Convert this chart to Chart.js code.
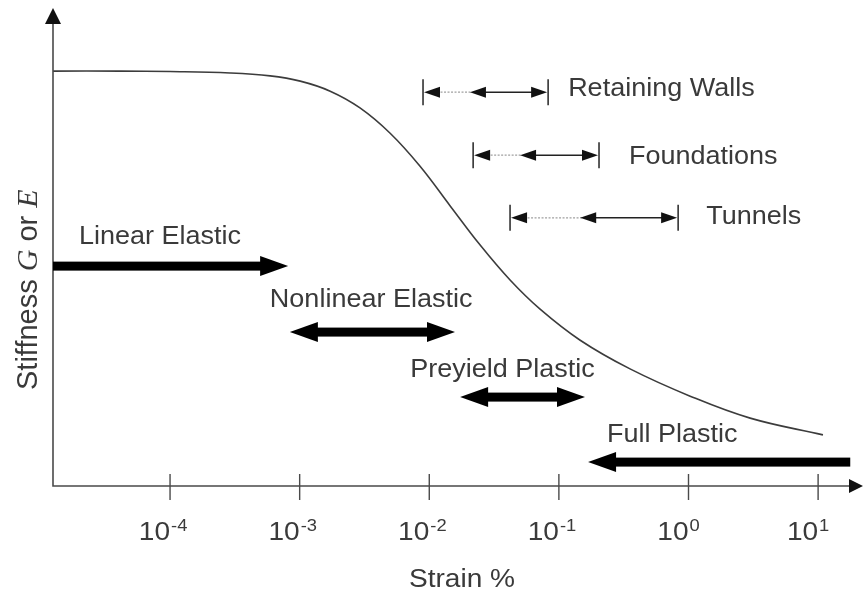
<!DOCTYPE html>
<html>
<head>
<meta charset="utf-8">
<title>Stiffness vs Strain</title>
<script src="https://cdn.jsdelivr.net/npm/chart.js"></script>
<style>
  html, body { margin: 0; padding: 0; background: #fff; }
  #wrap { width: 864px; height: 593px; }
</style>
</head>
<body>
<div id="wrap"><canvas id="stiffChart"></canvas></div>
<script>
// stiffness degradation curve: strain (%) and normalised stiffness
const strain    = [1.25e-5, 4.11e-5, 1e-4, 2.9e-4, 5.92e-4, 1.01e-3, 1.72e-3, 2.92e-3, 4.99e-3, 8.49e-3,
                   1.45e-2, 2.47e-2, 4.2e-2, 7.16e-2, 0.146, 0.354, 1.03, 2.99, 10.9];
const stiffness = [0.868, 0.868, 0.867, 0.864, 0.858, 0.847, 0.826, 0.791, 0.738, 0.669,
                   0.586, 0.504, 0.431, 0.370, 0.305, 0.245, 0.188, 0.142, 0.107];

// x axis ticks (powers of ten)
const tickValues    = [1e-4, 1e-3, 1e-2, 1e-1, 1e0, 1e1];
const tickExponents = ['-4', '-3', '-2', '-1', '0', '1'];

// behaviour zones (thick arrows)
const zoneNames = ['Linear Elastic', 'Nonlinear Elastic', 'Preyield Plastic', 'Full Plastic'];
const zoneFrom  = [1.25e-5, 8.4e-4, 1.73e-2, 0.168];
const zoneTo    = [8.15e-4, 1.58e-2, 0.159, 17.7];
const zoneLevel = [0.460, 0.322, 0.186, 0.050];
const zoneHeads = ['end', 'both', 'both', 'start'];

// typical strain ranges of structures
const appNames = ['Retaining Walls', 'Foundations', 'Tunnels'];
const appFrom  = [8.95e-3, 2.18e-2, 4.2e-2];
const appMid   = [2.06e-2, 5.02e-2, 0.146];
const appTo    = [0.0826, 0.204, 0.832];
const appLevel = [0.824, 0.692, 0.561];

// label placement (px offsets), kept apart from the data
const zoneLabelDx = [26, -20, -50, 19];
const zoneLabelDy = [-31, -34, -29, -29];
const appLabelDx  = [20, 30, 28];
const appLabelDy  = [-5, 0, -3];

const SANS = '"Liberation Sans", Arial, sans-serif';
const SERIF = '"Liberation Serif", "Times New Roman", serif';
const TEXT = '#3a3a3a';
const SX = 1.08; // the source text is slightly wide

function drawText(c, str, x, y, font, align) {
    c.save();
    c.font = font;
    c.fillStyle = TEXT;
    c.textBaseline = 'alphabetic';
    let w = c.measureText(str).width * SX;
    let x0 = x;
    if (align === 'center') x0 = x - w / 2;
    if (align === 'right') x0 = x - w;
    c.translate(x0, y);
    c.scale(SX, 1);
    c.fillText(str, 0, 0);
    c.restore();
    return w;
}

function tri(c, tipX, tipY, dir, len, half) {
    // dir: 1 = pointing right, -1 = left
    c.beginPath();
    c.moveTo(tipX, tipY);
    c.lineTo(tipX - dir * len, tipY - half);
    c.lineTo(tipX - dir * len, tipY + half);
    c.closePath();
    c.fill();
}

const schemePlugin = {
    id: 'scheme',
    afterDraw(chart) {
        const c = chart.ctx;
        const xs = chart.scales.x, ys = chart.scales.y;
        const a = chart.chartArea;

        // axes with arrow heads
        c.save();
        c.strokeStyle = '#4a4a4a';
        c.fillStyle = '#111';
        c.lineWidth = 1.6;
        c.beginPath();
        c.moveTo(a.left, a.top + 10);
        c.lineTo(a.left, a.bottom);
        c.lineTo(a.right - 10, a.bottom);
        c.stroke();
        c.beginPath();
        c.moveTo(a.left, a.top);
        c.lineTo(a.left - 8, a.top + 16);
        c.lineTo(a.left + 8, a.top + 16);
        c.closePath();
        c.fill();
        tri(c, a.right, a.bottom, 1, 14, 7);

        // ticks and labels
        c.lineWidth = 1.4;
        tickValues.forEach((v, i) => {
            const px = xs.getPixelForValue(v);
            c.beginPath();
            c.moveTo(px, a.bottom - 12);
            c.lineTo(px, a.bottom + 14);
            c.stroke();
            drawText(c, '10', px, a.bottom + 54, '26px ' + SANS, 'right');
            drawText(c, tickExponents[i], px + 1, a.bottom + 45, '17px ' + SANS, 'left');
        });
        c.restore();

        // axis titles
        drawText(c, 'Strain %', (a.left + a.right) / 2 + 4, 587, '26px ' + SANS, 'center');
        c.save();
        c.translate(37, 390);
        c.rotate(-Math.PI / 2);
        c.fillStyle = TEXT;
        let pos = 0;
        [['Stiffness ', '29px ' + SANS], ['G', 'italic 30px ' + SERIF], [' or ', '29px ' + SANS], ['E', 'italic 30px ' + SERIF]]
            .forEach(([s, f]) => {
                c.font = f;
                c.fillText(s, pos, 0);
                pos += c.measureText(s).width;
            });
        c.restore();

        // thick behaviour arrows
        c.save();
        c.fillStyle = '#000';
        zoneNames.forEach((name, i) => {
            const x1 = xs.getPixelForValue(zoneFrom[i]);
            const x2 = xs.getPixelForValue(zoneTo[i]);
            const y = ys.getPixelForValue(zoneLevel[i]);
            const hl = 28, hh = 10, th = 4.5;
            const h = zoneHeads[i];
            const s1 = (h === 'start' || h === 'both') ? x1 + hl - 1 : x1;
            const s2 = (h === 'end' || h === 'both') ? x2 - hl + 1 : x2;
            c.fillRect(s1, y - th, s2 - s1, th * 2);
            if (h === 'start' || h === 'both') tri(c, x1, y, -1, hl, hh);
            if (h === 'end' || h === 'both') tri(c, x2, y, 1, hl, hh);
            drawText(c, name, x1 + zoneLabelDx[i], y + zoneLabelDy[i] + 9, '25px ' + SANS, 'left');
        });
        c.restore();

        // thin strain-range arrows
        c.save();
        appNames.forEach((name, i) => {
            const x1 = xs.getPixelForValue(appFrom[i]);
            const xm = xs.getPixelForValue(appMid[i]);
            const x2 = xs.getPixelForValue(appTo[i]);
            const y = ys.getPixelForValue(appLevel[i]);
            c.strokeStyle = '#333';
            c.lineWidth = 1.6;
            c.beginPath();
            c.moveTo(x1, y - 13); c.lineTo(x1, y + 13);
            c.moveTo(x2, y - 13); c.lineTo(x2, y + 13);
            c.stroke();
            c.strokeStyle = '#a0a0a0';
            c.lineWidth = 1.2;
            c.setLineDash([2, 1.5]);
            c.beginPath();
            c.moveTo(x1 + 14, y); c.lineTo(xm + 2, y);
            c.stroke();
            c.setLineDash([]);
            c.strokeStyle = '#222';
            c.lineWidth = 1.5;
            c.beginPath();
            c.moveTo(xm + 10, y); c.lineTo(x2 - 10, y);
            c.stroke();
            c.fillStyle = '#111';
            tri(c, x1 + 1, y, -1, 16, 5.5);
            tri(c, xm, y, -1, 16, 5.5);
            tri(c, x2 - 1, y, 1, 16, 5.5);
            drawText(c, name, x2 + appLabelDx[i], y + appLabelDy[i] + 9, '25px ' + SANS, 'left');
        });
        c.restore();
    }
};

const ctx = document.getElementById('stiffChart').getContext('2d');
new Chart(ctx, {
    type: 'line',
    data: {
        datasets: [{
            label: 'Stiffness',
            data: strain.map((s, i) => ({ x: s, y: stiffness[i] })),
            borderColor: '#3c3c3c',
            borderWidth: 1.6,
            pointRadius: 0,
            tension: 0.4,
            fill: false
        }]
    },
    options: {
        responsive: true,
        maintainAspectRatio: false,
        animation: false,
        layout: { padding: { left: 53, right: 1, top: 8, bottom: 107 } },
        scales: {
            x: { type: 'logarithmic', min: 1.25e-5, max: 22.2, display: false },
            y: { type: 'linear', min: 0, max: 1, display: false }
        },
        plugins: {
            legend: { display: false },
            tooltip: { enabled: false }
        }
    },
    plugins: [schemePlugin]
});
</script>
</body>
</html>
